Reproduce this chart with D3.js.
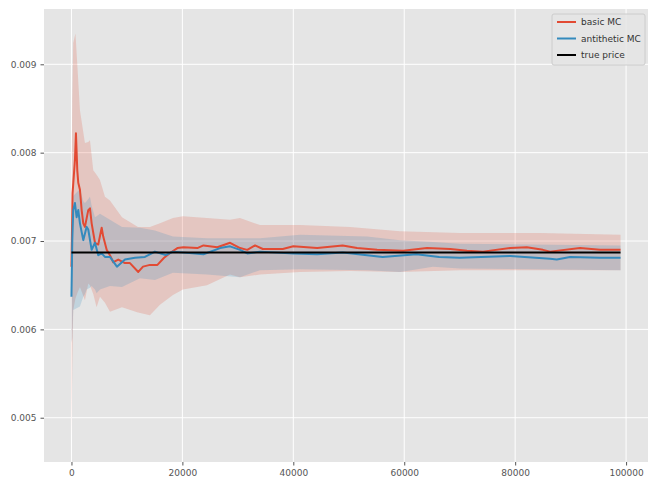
<!DOCTYPE html>
<html>
<head>
<meta charset="utf-8">
<script src="https://cdn.jsdelivr.net/npm/d3@7"></script>
<style>
  body { margin: 0; background: #fff; }
  text { font-family: "DejaVu Sans", sans-serif; }
</style>
</head>
<body>
<script>
// running estimates
let basicX    = [0, 200, 630, 810, 1050, 1230, 1530, 1840, 2130, 2430, 3030, 3340, 3640, 4240, 4830, 5450, 5730, 6350, 6940, 7540, 8440, 9650, 10550, 12050, 12900, 14150, 15500, 16700, 17900, 19100, 20200, 22700, 23800, 26300, 28600, 30400, 31700, 33100, 34500, 38100, 40000, 44300, 48900, 51500, 55100, 59800, 64100, 68300, 71300, 74200, 79100, 82100, 85000, 86300, 91700, 95300, 99000];
let basicMean = [0.00671, 0.00754, 0.00792, 0.00822, 0.00780, 0.00766, 0.00758, 0.00735, 0.00720, 0.00716, 0.00735, 0.00737, 0.00720, 0.00698, 0.00696, 0.00715, 0.00705, 0.00690, 0.00684, 0.00676, 0.00679, 0.00675, 0.00675, 0.00665, 0.00671, 0.00673, 0.00673, 0.00681, 0.00687, 0.00692, 0.00693, 0.00692, 0.00695, 0.00693, 0.00698, 0.00692, 0.00690, 0.00695, 0.00691, 0.00691, 0.00694, 0.00692, 0.00695, 0.00692, 0.00690, 0.00689, 0.00692, 0.00691, 0.00689, 0.00688, 0.00692, 0.00693, 0.00690, 0.00688, 0.00692, 0.00690, 0.00690];

let antiX    = [0, 150, 320, 630, 930, 1230, 1530, 2130, 2730, 3030, 3640, 4240, 4830, 5450, 6040, 6940, 8200, 9650, 11450, 13250, 15050, 17000, 18300, 23800, 26800, 28600, 30400, 31700, 34000, 40000, 44300, 48900, 56100, 62200, 66300, 70000, 79100, 86300, 87500, 89900, 95300, 99000];
let antiMean = [0.00637, 0.00701, 0.00735, 0.00743, 0.00727, 0.00735, 0.00720, 0.00701, 0.00716, 0.00713, 0.00690, 0.00698, 0.00684, 0.00686, 0.00682, 0.00682, 0.00671, 0.00679, 0.00681, 0.00682, 0.00688, 0.00684, 0.00688, 0.00685, 0.00692, 0.00694, 0.00690, 0.00686, 0.00688, 0.00686, 0.00685, 0.00687, 0.00682, 0.00685, 0.00682, 0.00681, 0.00683, 0.00680, 0.00679, 0.00682, 0.00681, 0.00681];

// confidence bands
let basicBandX = [0, 150, 320, 720, 1050, 1530, 2430, 3030, 3340, 3930, 4530, 5140, 6040, 6940, 9110, 12000, 14150, 15960, 18300, 20100, 24430, 28580, 30380, 33990, 41210, 50230, 59240, 70060, 84490, 99000];
let basicLo = [0.00478, 0.00560, 0.00622, 0.00635, 0.00641, 0.00648, 0.00633, 0.00652, 0.00650, 0.00640, 0.00625, 0.00637, 0.00630, 0.00620, 0.00625, 0.00619, 0.00616, 0.00628, 0.00639, 0.00645, 0.00650, 0.00662, 0.00659, 0.00662, 0.00665, 0.00666, 0.00665, 0.00667, 0.00667, 0.00667];
let basicHi = [0.00745, 0.00860, 0.00924, 0.00935, 0.00900, 0.00848, 0.00811, 0.00812, 0.00814, 0.00780, 0.00775, 0.00769, 0.00750, 0.00746, 0.00727, 0.00716, 0.00716, 0.00720, 0.00726, 0.00728, 0.00726, 0.00724, 0.00726, 0.00718, 0.00718, 0.00716, 0.00711, 0.00709, 0.00709, 0.00707];

let antiBandX = [0, 150, 320, 1530, 2130, 2430, 2730, 3340, 3640, 4240, 4530, 5140, 6940, 9110, 12350, 15050, 18300, 24430, 30380, 33990, 41210, 53300, 59240, 65180, 70060, 99000];
let antiLo = [0.00585, 0.00590, 0.00622, 0.00626, 0.00637, 0.00640, 0.00645, 0.00647, 0.00649, 0.00645, 0.00641, 0.00645, 0.00649, 0.00648, 0.00658, 0.00656, 0.00664, 0.00662, 0.00659, 0.00667, 0.00668, 0.00667, 0.00665, 0.00671, 0.00669, 0.00667];
let antiHi = [0.00670, 0.00740, 0.00751, 0.00759, 0.00745, 0.00743, 0.00745, 0.00750, 0.00740, 0.00727, 0.00728, 0.00731, 0.00724, 0.00716, 0.00715, 0.00712, 0.00705, 0.00703, 0.00703, 0.00703, 0.00707, 0.00705, 0.00701, 0.00699, 0.00697, 0.00695];

let trueX = [0, 99000];
let truePrice = 0.00687;

let seriesNames = ["basic MC", "antithetic MC", "true price"];
let seriesColors = ["#E24A33", "#348ABD", "#000000"];

let xTicks = [0, 20000, 40000, 60000, 80000, 100000];
let yTicks = [0.005, 0.006, 0.007, 0.008, 0.009];

let W = 654, H = 478;
let margin = {top: 9, right: 6, bottom: 16, left: 44};
let width = W - margin.left - margin.right;
let height = H - margin.top - margin.bottom;

let xScale = d3.scaleLinear().domain([-4950, 103950]).range([0, width]);
let yScale = d3.scaleLinear().domain([0.004499, 0.009626]).range([height, 0]);

let svg = d3.select("body").append("svg")
    .attr("width", W)
    .attr("height", H);

let chart = svg.append("g")
    .attr("transform", "translate(" + margin.left + "," + margin.top + ")");

chart.append("rect")
    .attr("width", width)
    .attr("height", height)
    .attr("fill", "#E5E5E5");

chart.append("clipPath").attr("id", "clip")
  .append("rect").attr("width", width).attr("height", height);

// grid
chart.append("g").selectAll("line")
    .data(xTicks)
  .enter().append("line")
    .attr("x1", d => xScale(d)).attr("x2", d => xScale(d))
    .attr("y1", 0).attr("y2", height)
    .attr("stroke", "#fff").attr("stroke-width", 1);
chart.append("g").selectAll("line")
    .data(yTicks)
  .enter().append("line")
    .attr("x1", 0).attr("x2", width)
    .attr("y1", d => yScale(d)).attr("y2", d => yScale(d))
    .attr("stroke", "#fff").attr("stroke-width", 1);

let plot = chart.append("g").attr("clip-path", "url(#clip)");

function band(xs, lo, hi) {
  return d3.area()
    .x((d, i) => xScale(xs[i]))
    .y0((d, i) => yScale(lo[i]))
    .y1((d, i) => yScale(hi[i]))(xs);
}
function line(xs, ys) {
  return d3.line()
    .x((d, i) => xScale(xs[i]))
    .y((d, i) => yScale(ys[i]))(xs);
}

plot.append("path")
    .attr("d", band(basicBandX, basicLo, basicHi))
    .attr("fill", seriesColors[0]).attr("fill-opacity", 0.2);
plot.append("path")
    .attr("d", band(antiBandX, antiLo, antiHi))
    .attr("fill", seriesColors[1]).attr("fill-opacity", 0.2);

plot.append("path")
    .attr("d", line(basicX, basicMean))
    .attr("fill", "none").attr("stroke", seriesColors[0])
    .attr("stroke-width", 2).attr("stroke-linejoin", "round");
plot.append("path")
    .attr("d", line(antiX, antiMean))
    .attr("fill", "none").attr("stroke", seriesColors[1])
    .attr("stroke-width", 2).attr("stroke-linejoin", "round");
plot.append("path")
    .attr("d", line(trueX, trueX.map(() => truePrice)))
    .attr("fill", "none").attr("stroke", seriesColors[2])
    .attr("stroke-width", 2);

// axes
let xAxis = chart.append("g")
    .attr("transform", "translate(0," + height + ")")
    .call(d3.axisBottom(xScale).tickValues(xTicks).tickFormat(d3.format("d"))
      .tickSize(3.5).tickPadding(4.5));
let yAxis = chart.append("g")
    .call(d3.axisLeft(yScale).tickValues(yTicks).tickFormat(d3.format(".3f"))
      .tickSize(3.5).tickPadding(4));
[xAxis, yAxis].forEach(function(ax) {
  ax.select(".domain").remove();
  ax.selectAll(".tick line").attr("stroke", "#555555");
  ax.selectAll(".tick text").attr("fill", "#555555")
    .style("font-size", "9px").style("font-family", "DejaVu Sans");
});

// legend
let legend = chart.append("g")
    .attr("transform", "translate(" + (width - 96) + ",5)");
legend.append("rect")
    .attr("width", 93).attr("height", 51)
    .attr("rx", 2)
    .attr("fill", "#E5E5E5").attr("fill-opacity", 0.8)
    .attr("stroke", "#cccccc").attr("stroke-width", 1);
let items = legend.selectAll(".item")
    .data(seriesNames)
  .enter().append("g")
    .attr("transform", (d, i) => "translate(0," + (8 + i * 16.5) + ")");
items.append("line")
    .attr("x1", 5).attr("x2", 24)
    .attr("stroke", (d, i) => seriesColors[i])
    .attr("stroke-width", 2);
items.append("text")
    .attr("x", 29).attr("y", 0).attr("dy", "0.35em")
    .attr("fill", "#333333")
    .style("font-size", "9px")
    .text(d => d);
</script>
</body>
</html>
